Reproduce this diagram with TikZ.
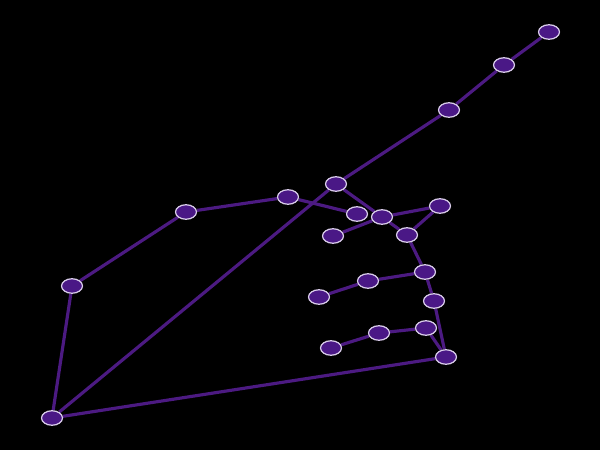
\documentclass[tikz,border=0pt]{standalone}
\usetikzlibrary{shapes.geometric}
\pgfdeclarelayer{bg}
\pgfdeclarelayer{edges}
\pgfsetlayers{bg,edges,main}
\definecolor{edgepurple}{HTML}{4C1A82}
\definecolor{vertfill}{HTML}{4A1886}
\definecolor{vertline}{HTML}{D9CCEA}

\begin{document}
\begin{tikzpicture}[x=0.02cm,y=-0.02cm,
    vert/.style={ellipse, draw=vertline, fill=vertfill, line width=0.7pt,
      minimum width=0.42cm, minimum height=0.29cm, inner sep=0pt},
    link/.style={draw=edgepurple, line width=1.8pt}]
    \begin{pgfonlayer}{bg}
      \fill[black] (0,0) rectangle (600,450);
    \end{pgfonlayer}
    \useasboundingbox (0,0) rectangle (600,450);

    % outer chain
    \node[vert] (top)   at (549,32)  {};
    \node[vert] (t2)    at (504,65)  {};
    \node[vert] (t3)    at (449,110) {};
    \node[vert] (hub)   at (336,184) {};
    \node[vert] (l1)    at (288,197) {};
    \node[vert] (l2)    at (186,212) {};
    \node[vert] (l3)    at (72,286)  {};
    \node[vert] (base)  at (52,418)  {};
    % inner part
    \node[vert] (m1)    at (357,214) {};
    \node[vert] (m2)    at (382,217) {};
    \node[vert] (m3)    at (440,206) {};
    \node[vert] (m4)    at (333,236) {};
    \node[vert] (m5)    at (407,235) {};
    \node[vert] (s1)    at (425,272) {};
    \node[vert] (s2)    at (368,281) {};
    \node[vert] (s3)    at (319,297) {};
    \node[vert] (s4)    at (434,301) {};
    \node[vert] (r1)    at (426,328) {};
    \node[vert] (r2)    at (379,333) {};
    \node[vert] (r3)    at (331,348) {};
    \node[vert] (foot)  at (446,357) {};

    \begin{pgfonlayer}{edges}
      \draw[link] (top) -- (t2) -- (t3) -- (hub) -- (base);
      \draw[link] (hub) -- (m2) -- (m5);
      \draw[link] (l1) -- (m1);
      \draw[link] (m2) -- (m3) -- (m5);
      \draw[link] (m2) -- (m4);
      \draw[link] (m5) -- (s1) -- (s4) -- (foot);
      \draw[link] (s1) -- (s2) -- (s3);
      \draw[link] (foot) -- (r1) -- (r2) -- (r3);
      \draw[link] (foot) -- (base) -- (l3) -- (l2) -- (l1);
    \end{pgfonlayer}
\end{tikzpicture}
\end{document}
